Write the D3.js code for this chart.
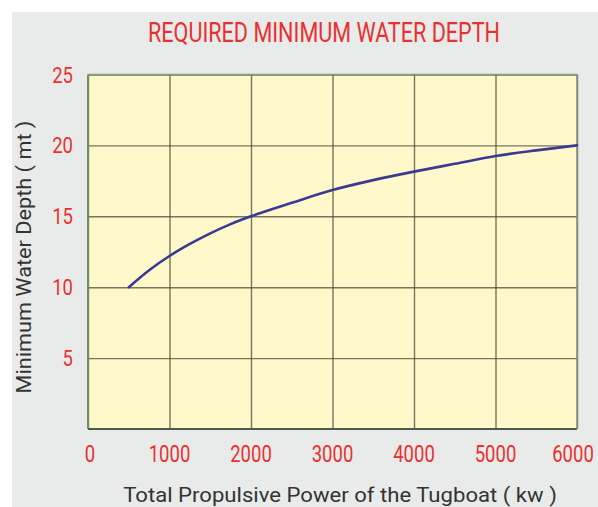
<!DOCTYPE html>
<html>
<head>
<meta charset="utf-8">
<script src="https://cdn.jsdelivr.net/npm/d3@7"></script>
<style>
  body { margin: 0; background: #fff; }
  svg { display: block; }
  .cond { font-family: Roboto, "Liberation Sans", sans-serif; }
</style>
</head>
<body>
<svg></svg>
<script>
'use strict';
// data
var power = [500, 750, 1000, 1250, 1500, 1750, 2000, 2500, 3000, 3500, 4000, 4500, 5000, 5500, 6000];
var depth = [10, 11.2, 12.2, 13.05, 13.8, 14.45, 15.0, 15.95, 16.85, 17.55, 18.15, 18.7, 19.25, 19.65, 20.0];
var xTicks = [0, 1000, 2000, 3000, 4000, 5000, 6000];
var yTicks = [5, 10, 15, 20, 25];

var canvasWidth = 598;
var canvasHeight = 507;
var margin = { top: 74.5, right: 21, bottom: 78, left: 88 };
var width = canvasWidth - margin.left - margin.right;
var height = canvasHeight - margin.top - margin.bottom;

var svg = d3.select('svg')
  .attr('width', canvasWidth)
  .attr('height', canvasHeight);

// squeeze a text horizontally around (cx, y) so it looks condensed
function condensed(parent, txt, cx, y, size, fill, targetLen, anchor) {
  var t = parent.append('text')
    .attr('class', 'cond')
    .attr('font-size', size)
    .attr('fill', fill)
    .attr('text-anchor', anchor || 'middle')
    .text(txt);
  var k = targetLen / t.node().getComputedTextLength();
  t.attr('transform', 'translate(' + cx + ',' + y + ') scale(' + k + ',1)');
  return t;
}

// grey panel
svg.append('rect')
  .attr('x', 12).attr('y', 12)
  .attr('width', canvasWidth - 12).attr('height', canvasHeight - 12)
  .attr('fill', '#e9ebea');

condensed(svg, 'REQUIRED MINIMUM WATER DEPTH', 324, 42, 28, '#e8312f', 352);

var g = svg.append('g')
  .attr('transform', 'translate(' + margin.left + ',' + margin.top + ')');

var xScale = d3.scaleLinear().domain([0, 6000]).range([0, width]);
var yScale = d3.scaleLinear().domain([0, 25]).range([height, 0]);

g.append('rect')
  .attr('width', width).attr('height', height)
  .attr('fill', '#fef8cb');

// grid via axes, labels drawn separately
var yAxis = g.append('g')
  .call(d3.axisLeft(yScale).tickValues(yTicks).tickSize(-width).tickFormat(''));
var xAxis = g.append('g')
  .attr('transform', 'translate(0,' + height + ')')
  .call(d3.axisBottom(xScale).tickValues(xTicks).tickSize(0).tickFormat(''));
xAxis.selectAll('.tick line').attr('y1', -height).attr('y2', 0);

[yAxis, xAxis].forEach(function(a) {
  a.select('.domain').remove();
  a.selectAll('.tick text').remove();
  a.selectAll('.tick line')
    .attr('stroke', '#4a4a3a')
    .attr('stroke-opacity', 0.75)
    .attr('stroke-width', 1.4);
});

yTicks.forEach(function(v) {
  condensed(g, String(v), -15, yScale(v) + 8, 22, '#e8312f', String(v).length * 10.4, 'end');
});
xTicks.forEach(function(v) {
  var cx = xScale(v);
  if (v === 0) cx += 2;
  if (v === 6000) cx -= 4;
  condensed(g, String(v), cx, height + 33, 24, '#e8312f', String(v).length * 10.4);
});

// frame
g.append('line').attr('x1', 0).attr('x2', 0).attr('y1', 0).attr('y2', height)
  .attr('stroke', '#6e8f62').attr('stroke-width', 2);
g.append('line').attr('x1', 0).attr('x2', width).attr('y1', height).attr('y2', height)
  .attr('stroke', '#4d5a45').attr('stroke-width', 2);
g.append('line').attr('x1', width).attr('x2', width).attr('y1', 0).attr('y2', height)
  .attr('stroke', '#8a8f80').attr('stroke-width', 1.5);
g.append('line').attr('x1', 0).attr('x2', width).attr('y1', 0).attr('y2', 0)
  .attr('stroke', '#8aa07a').attr('stroke-width', 1.5);

var line = d3.line()
  .x(function(d, i) { return xScale(power[i]); })
  .y(function(d) { return yScale(d); })
  .curve(d3.curveMonotoneX);

g.append('path')
  .datum(depth)
  .attr('d', line)
  .attr('fill', 'none')
  .attr('stroke', '#3b3a92')
  .attr('stroke-width', 2.6)
  .attr('stroke-linecap', 'round');

// axis titles
condensed(svg, 'Total Propulsive Power of the Tugboat ( kw )', 340, 502, 20, '#333', 434);

var yl = svg.append('g').attr('transform', 'translate(31,257) rotate(-90)');
condensed(yl, 'Minimum Water Depth ( mt )', 0, 0, 20, '#333', 273);
</script>
</body>
</html>
